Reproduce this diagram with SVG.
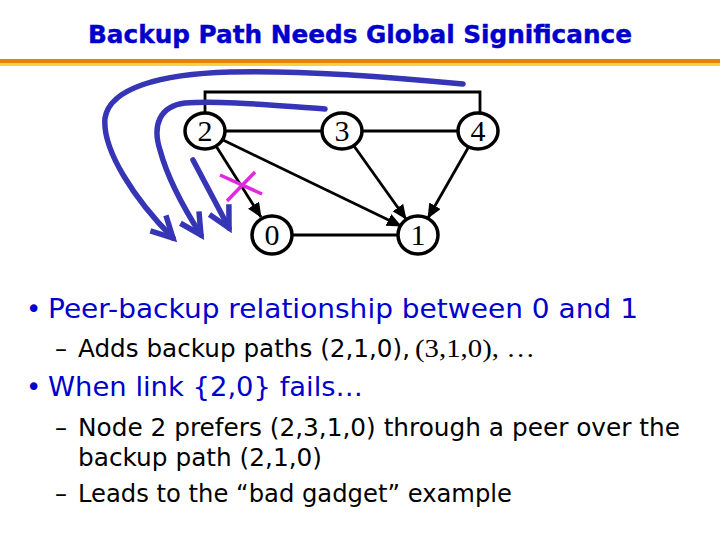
<svg xmlns="http://www.w3.org/2000/svg" width="720" height="540" viewBox="0 0 720 540">
<style>
.node ellipse{fill:#fff;stroke:#000;stroke-width:3.5}
.node text{font-family:"Liberation Serif",serif;font-size:30px;text-anchor:middle;fill:#000}
.edge{stroke:#000;stroke-width:2.8;fill:none}
.backup{stroke:#3535B5;stroke-width:5.5;fill:none;stroke-linecap:round}
.x{stroke:#E028E0;stroke-width:3.5}
.t{font-family:"DejaVu Sans","Verdana",sans-serif;}
.blue{fill:#0000CC}
.blk{fill:#000}
</style>
<defs>
<marker id="ah" markerUnits="userSpaceOnUse" markerWidth="18" markerHeight="14" refX="14" refY="6.5" orient="auto">
<path d="M0,0 L15,6.5 L0,13 Z" fill="#000"/>
</marker>
<marker id="vh" markerUnits="userSpaceOnUse" markerWidth="32" markerHeight="32" refX="26" refY="16" orient="auto">
<path d="M5,5 L26,16 L5,27" fill="none" stroke="#3535B5" stroke-width="5.5" stroke-linejoin="miter"/>
</marker>
</defs>
<rect width="720" height="540" fill="#fff"/>
<text class="t blue" x="360" y="43" font-size="24" font-weight="bold" text-anchor="middle" textLength="544" lengthAdjust="spacingAndGlyphs" stroke="#0000CC" stroke-width="0.4">Backup Path Needs Global Significance</text>
<rect x="0" y="59" width="720" height="4" fill="#E8820C"/>
<rect x="0" y="63" width="720" height="3" fill="#FFD040"/>

<g id="connectors">
<path class="edge" d="M205,113 V92 H480 V114"/>
<line class="edge" x1="225" y1="131" x2="322" y2="131"/>
<line class="edge" x1="362" y1="131" x2="458" y2="131"/>
<line class="edge" x1="292" y1="235" x2="398" y2="235"/>
<line class="edge" x1="216" y1="146" x2="261" y2="217" marker-end="url(#ah)"/>
<line class="edge" x1="223" y1="140" x2="401" y2="226" marker-end="url(#ah)"/>
<line class="edge" x1="354" y1="146" x2="406" y2="219" marker-end="url(#ah)"/>
<line class="edge" x1="468" y1="148" x2="428" y2="218" marker-end="url(#ah)"/>
</g>

<g id="backup-paths">
<path class="backup" d="M463,84 C380,76 300,70 230,72 C160,74 110,88 105,118 C102,150 135,200 173,238" marker-end="url(#vh)"/>
<path class="backup" d="M325,109 C280,106 220,100 185,103 C160,106 152,125 160,150 C168,180 185,210 201,235" marker-end="url(#vh)"/>
<path class="backup" d="M193,160 L229,228" marker-end="url(#vh)"/>
</g>

<g id="failure-mark">
<line class="x" x1="220" y1="175" x2="262" y2="194"/>
<line class="x" x1="227" y1="201" x2="255" y2="172"/>
</g>

<g id="node-2" class="node"><ellipse cx="205" cy="131" rx="20" ry="18"/><text x="205" y="141">2</text></g>
<g id="node-3" class="node"><ellipse cx="342" cy="131" rx="20" ry="18"/><text x="342" y="141">3</text></g>
<g id="node-4" class="node"><ellipse cx="478" cy="131" rx="20" ry="18"/><text x="478" y="141">4</text></g>
<g id="node-0" class="node"><ellipse cx="272" cy="235" rx="20" ry="19"/><text x="272" y="245">0</text></g>
<g id="node-1" class="node"><ellipse cx="418" cy="235" rx="20" ry="19"/><text x="418" y="245">1</text></g>

<g id="text">
<text class="t blue" x="26" y="318" font-size="26">•</text>
<text class="t blue" x="48" y="318" font-size="27" textLength="590" lengthAdjust="spacingAndGlyphs">Peer-backup relationship between 0 and 1</text>
<text class="t blk" x="55" y="357" font-size="24">–</text>
<text class="t blk" x="78" y="357" font-size="24" textLength="332" lengthAdjust="spacingAndGlyphs">Adds backup paths (2,1,0),</text>
<text x="415" y="357" font-size="26" font-family="'Liberation Serif',serif" fill="#000" textLength="120" lengthAdjust="spacingAndGlyphs">(3,1,0), …</text>
<text class="t blue" x="26" y="396" font-size="26">•</text>
<text class="t blue" x="48" y="396" font-size="27" textLength="315" lengthAdjust="spacingAndGlyphs">When link {2,0} fails…</text>
<text class="t blk" x="55" y="436" font-size="24">–</text>
<text class="t blk" x="78" y="436" font-size="24" textLength="602" lengthAdjust="spacingAndGlyphs">Node 2 prefers (2,3,1,0) through a peer over the</text>
<text class="t blk" x="78" y="466" font-size="24" textLength="244" lengthAdjust="spacingAndGlyphs">backup path (2,1,0)</text>
<text class="t blk" x="55" y="502" font-size="24">–</text>
<text class="t blk" x="78" y="502" font-size="24" textLength="434" lengthAdjust="spacingAndGlyphs">Leads to the “bad gadget” example</text>
</g>
</svg>
